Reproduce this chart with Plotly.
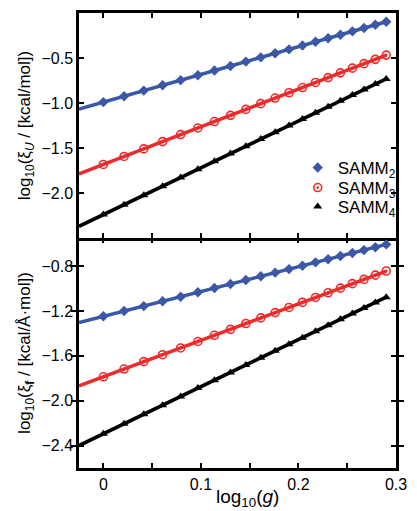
import numpy as np
import plotly.graph_objects as go

# log10(g) for g = 1.00 ... 1.95
x = [0.0, 0.0212, 0.0414, 0.0607, 0.0792, 0.0969, 0.1139, 0.1303, 0.1461, 0.1614,
     0.1761, 0.1903, 0.2041, 0.2175, 0.2304, 0.2430, 0.2553, 0.2672, 0.2788, 0.2900]

# upper panel: log10(xi_U)
u_samm2 = [-0.990, -0.925, -0.862, -0.803, -0.746, -0.692, -0.639, -0.589, -0.540, -0.493,
           -0.448, -0.404, -0.361, -0.320, -0.280, -0.242, -0.204, -0.167, -0.131, -0.097]
u_samm3 = [-1.683, -1.594, -1.510, -1.429, -1.351, -1.277, -1.206, -1.137, -1.071, -1.007,
           -0.945, -0.886, -0.828, -0.772, -0.718, -0.665, -0.613, -0.563, -0.515, -0.468]
u_samm4 = [-2.240, -2.130, -2.025, -1.924, -1.828, -1.736, -1.648, -1.562, -1.480, -1.401,
           -1.324, -1.250, -1.179, -1.109, -1.042, -0.976, -0.912, -0.851, -0.790, -0.732]

# lower panel: log10(xi_f)
f_samm2 = [-1.248, -1.201, -1.157, -1.114, -1.073, -1.034, -0.996, -0.960, -0.925, -0.891,
           -0.859, -0.827, -0.797, -0.767, -0.739, -0.711, -0.684, -0.658, -0.632, -0.607]
f_samm3 = [-1.787, -1.718, -1.652, -1.590, -1.530, -1.472, -1.417, -1.364, -1.312, -1.262,
           -1.215, -1.169, -1.124, -1.080, -1.038, -0.997, -0.957, -0.919, -0.881, -0.844]
f_samm4 = [-2.295, -2.206, -2.121, -2.040, -1.962, -1.888, -1.817, -1.748, -1.681, -1.617,
           -1.555, -1.496, -1.438, -1.382, -1.327, -1.274, -1.223, -1.173, -1.124, -1.077]

names = ["SAMM<sub>2</sub>", "SAMM<sub>3</sub>", "SAMM<sub>4</sub>"]
colors = ["#3b57a7", "#ee2a2a", "#000000"]
legend_ids = ["legend", "legend2", "legend3"]
XMIN, XMAX = -0.025, 0.30

def marker(i):
    if i == 0:
        return dict(symbol="diamond", size=8, color=colors[0])
    if i == 1:
        return dict(symbol="circle-open-dot", size=8, color=colors[1], line=dict(width=1.6, color=colors[1]))
    return dict(symbol="triangle-up", size=8, color=colors[2])

fig = go.Figure()
panels = [([u_samm2, u_samm3, u_samm4], "x", "y"), ([f_samm2, f_samm3, f_samm4], "x2", "y2")]
for p, (series, xa, ya) in enumerate(panels):
    for i, ys in enumerate(series):
        b, a = np.polyfit(x, ys, 1)
        xl = np.array([XMIN, x[-1]])
        fig.add_trace(go.Scatter(x=xl, y=a + b * xl, mode="lines",
                                 line=dict(color=colors[i], width=3.5),
                                 xaxis=xa, yaxis=ya, showlegend=False, hoverinfo="skip"))
    for i, ys in enumerate(series):
        fig.add_trace(go.Scatter(x=x, y=ys, mode="markers", marker=marker(i), name=names[i],
                                 xaxis=xa, yaxis=ya, showlegend=(p == 0),
                                 legend=legend_ids[i]))

font = "Liberation Sans, Arial, sans-serif"
xticks = [0, 0.05, 0.1, 0.15, 0.2, 0.25, 0.3]
xtext = ["0", "", "0.1", "", "0.2", "", "0.3"]
common = dict(showline=True, linecolor="black", linewidth=2.5,
              ticks="inside", ticklen=5, tickwidth=2, tickcolor="black",
              showgrid=False, zeroline=False,
              tickfont=dict(family=font, size=16, color="black"))

split = 1 - 225 / 455
leg_common = dict(xanchor="left", yanchor="middle", bgcolor="rgba(0,0,0,0)",
                  font=dict(family=font, size=17), itemwidth=30)
plot_top, plot_h = 13, 455

def leg_y(pix):
    return (plot_top + plot_h - pix) / plot_h

fig.update_layout(
    width=417, height=511,
    margin=dict(l=79, r=10, t=13, b=43),
    paper_bgcolor="white", plot_bgcolor="white",
    font=dict(family=font, size=16, color="black"),
    xaxis=dict(domain=[0, 1], range=[XMIN, XMAX], anchor="y", tickvals=xticks,
               ticktext=xtext, showticklabels=False, mirror="allticks", **common),
    yaxis=dict(domain=[split, 1], range=[-2.5, 0.0], anchor="x", mirror="allticks",
               tickvals=[-2.0, -1.5, -1.0, -0.5], tickformat=".1f",
               title=dict(text="log<sub>10</sub>(ξ<sub><i>U</i></sub> / [kcal/mol])",
                          font=dict(family=font, size=17), standoff=7), **common),
    xaxis2=dict(domain=[0, 1], range=[XMIN, XMAX], anchor="y2", tickvals=xticks,
                ticktext=xtext, mirror=False, **common),
    xaxis3=dict(overlaying="x2", side="top", anchor="y2", range=[XMIN, XMAX],
                tickvals=xticks, showticklabels=False, showline=False,
                ticks="inside", ticklen=5, tickwidth=2, tickcolor="black",
                showgrid=False, zeroline=False),
    yaxis2=dict(domain=[0, split], range=[-2.6, -0.55], anchor="x2", mirror="allticks",
                tickvals=[-2.4, -2.0, -1.6, -1.2, -0.8], tickformat=".1f",
                title=dict(text="log<sub>10</sub>(ξ<sub><b>f</b></sub> / [kcal/Å·mol])",
                           font=dict(family=font, size=17), standoff=7), **common),
    legend=dict(x=0.69, y=leg_y(168), **leg_common),
    legend2=dict(x=0.69, y=leg_y(188), **leg_common),
    legend3=dict(x=0.69, y=leg_y(207), **leg_common),
    annotations=[dict(text="log<sub>10</sub>(<i>g</i>)", xref="paper", yref="paper",
                      x=0.53, y=0, xanchor="center", yanchor="middle", yshift=-30,
                      showarrow=False, font=dict(family=font, size=19, color="black"))],
)
# invisible trace so the overlay axis with downward ticks is rendered
fig.add_trace(go.Scatter(x=[XMIN], y=[-2.6], xaxis="x3", yaxis="y2", mode="markers",
                         marker=dict(opacity=0), showlegend=False, hoverinfo="skip"))

fig.write_html("out.html")
